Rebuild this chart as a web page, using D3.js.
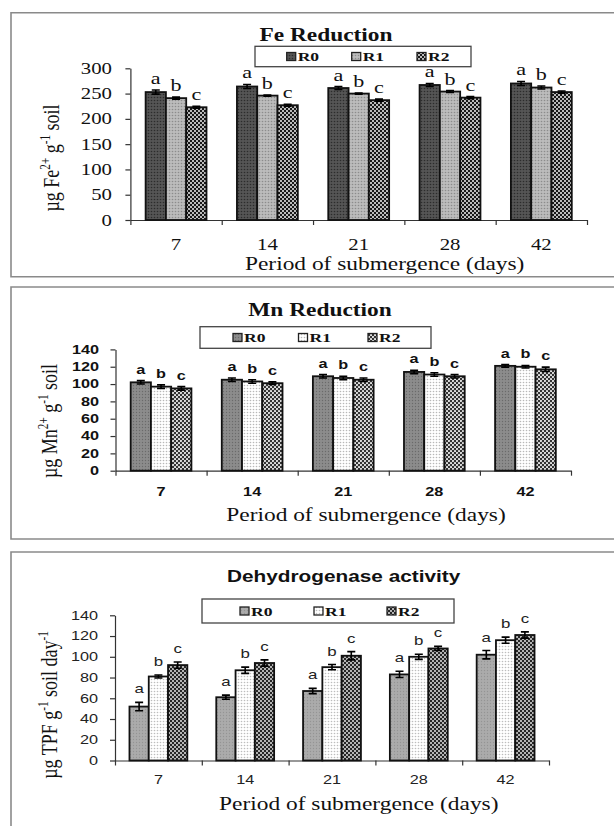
<!DOCTYPE html>
<html><head><meta charset="utf-8">
<script src="https://cdn.jsdelivr.net/npm/d3@7"></script>
<style>html,body{margin:0;padding:0;background:#fff;} svg{display:block;}</style>
</head><body>
<svg id="fig" width="614" height="826"></svg>
<script>
// Submergence periods and treatments
const days = ["7", "14", "21", "28", "42"];
const treatments = ["R0", "R1", "R2"];
const letters = ["a", "b", "c"];

// Fe reduction (µg Fe2+ g-1 soil)
const feR0 = [253, 264, 261, 267, 270];
const feR1 = [241, 246, 250, 254, 262];
const feR2 = [223, 227, 237, 242, 253];
const feErrR0 = [4, 4, 3, 3, 4];
const feErrR1 = [2, 1, 1, 2, 3];
const feErrR2 = [2, 2, 2, 2, 2];
const feTicks = [0, 50, 100, 150, 200, 250, 300];

// Mn reduction (µg Mn2+ g-1 soil)
const mnR0 = [102, 105, 109, 114, 121];
const mnR1 = [97, 103, 107, 111, 120];
const mnR2 = [95, 101, 105, 109, 117];
const mnErrR0 = [2, 2, 2, 2, 1.5];
const mnErrR1 = [2, 2, 2, 2, 1.5];
const mnErrR2 = [2, 1.5, 2, 2, 2.5];
const mnTicks = [0, 20, 40, 60, 80, 100, 120, 140];

// Dehydrogenase activity (µg TPF g-1 soil day-1)
const dhR0 = [52, 61, 67, 83, 102];
const dhR1 = [81, 87, 90, 100, 116];
const dhR2 = [92, 94, 101, 108, 121];
const dhErrR0 = [4, 2, 2.5, 3, 4];
const dhErrR1 = [1.5, 3, 2.5, 2.5, 3];
const dhErrR2 = [3, 3, 4, 2, 3];
const dhTicks = [0, 20, 40, 60, 80, 100, 120, 140];

const SX = 1.3; // horizontal stretch applied to all lettering
const SERIF = "'Liberation Serif','Times New Roman',serif";
const SANS = "'Liberation Sans',Arial,sans-serif";

const svg = d3.select("#fig");
svg.append("rect").attr("width", 614).attr("height", 826).attr("fill", "#fff");
const defs = svg.append("defs");

// fill textures
function dotPattern(id, size, bg, dot, r) {
  const p = defs.append("pattern").attr("id", id).attr("patternUnits", "userSpaceOnUse")
    .attr("width", size).attr("height", size);
  p.append("rect").attr("width", size).attr("height", size).attr("fill", bg);
  p.append("circle").attr("cx", size / 2).attr("cy", size / 2).attr("r", r).attr("fill", dot);
}
function checkPattern(id, dark, light, r) {
  const p = defs.append("pattern").attr("id", id).attr("patternUnits", "userSpaceOnUse")
    .attr("width", 4).attr("height", 4);
  p.append("rect").attr("width", 4).attr("height", 4).attr("fill", dark);
  p.append("circle").attr("cx", 1).attr("cy", 1).attr("r", r).attr("fill", light);
  p.append("circle").attr("cx", 3).attr("cy", 3).attr("r", r).attr("fill", light);
}
dotPattern("fe0", 3, "#555555", "#2c2c2c", 0.8);
dotPattern("fe1", 3, "#bcbcbc", "#8c8c8c", 0.8);
checkPattern("fe2", "#181818", "#f2f2f2", 1.0);
dotPattern("mn0", 3, "#8c8c8c", "#6a6a6a", 0.7);
dotPattern("mn1", 3, "#ffffff", "#b8b8b8", 0.8);
checkPattern("mn2", "#333333", "#ececec", 1.05);
dotPattern("dh0", 3, "#ababab", "#949494", 0.7);
dotPattern("dh1", 3, "#ffffff", "#bdbdbd", 0.8);
checkPattern("dh2", "#262626", "#e4e4e4", 1.0);

function label(g, x, y, str, f) {
  return g.append("text")
    .attr("transform", `translate(${x},${y}) scale(${SX},1)`)
    .attr("text-anchor", f.anchor || "middle")
    .attr("dy", f.dy || "0.35em")
    .style("font-family", f.family)
    .style("font-size", f.size + "px")
    .style("font-weight", f.weight || "normal")
    .attr("fill", f.color || "#111")
    .text(str);
}

function rotatedTitle(g, x, y, parts, size) {
  const t = g.append("text")
    .attr("transform", `translate(${x},${y}) scale(${SX},1) rotate(-90)`)
    .attr("text-anchor", "middle").attr("dy", "0.35em")
    .style("font-family", SERIF).style("font-size", size + "px").attr("fill", "#111");
  let shift = 0;
  parts.forEach(([s, sup]) => {
    const ts = t.append("tspan").text(s);
    if (sup) {
      ts.style("font-size", (size * 0.62) + "px").attr("dy", -size * 0.4);
      shift = size * 0.4;
    } else if (shift) {
      ts.attr("dy", shift);
      shift = 0;
    }
  });
}

function drawPanel(p) {
  const g = svg.append("g");
  // frame (open on the right)
  g.append("path")
    .attr("d", `M620,${p.frame[0]} H${p.frameX} V${p.frame[1]} H620`)
    .attr("fill", "none").attr("stroke", "#8a8a8a").attr("stroke-width", 1.6);

  const x = d3.scaleBand().domain(days).range([p.x0, p.x1]).padding(0);
  const xs = d3.scaleBand().domain(treatments).range([0, x.bandwidth()])
    .paddingInner(0).paddingOuter(0.75);
  const y = d3.scaleLinear().domain([0, p.max]).range([p.y0, p.yTop]);

  // axes
  const yAxis = d3.axisLeft(y).tickValues(p.ticks).tickSize(5).tickSizeOuter(0).tickFormat("");
  g.append("g").attr("transform", `translate(${p.x0},0)`).call(yAxis)
    .call(a => a.selectAll("path,line").attr("stroke", "#333").attr("stroke-width", 1.2));
  const xb = d3.scaleLinear().domain([0, days.length]).range([p.x0, p.x1]);
  const xAxis = d3.axisBottom(xb).tickValues(d3.range(days.length + 1)).tickSize(5)
    .tickSizeOuter(0).tickFormat("");
  g.append("g").attr("transform", `translate(0,${p.y0})`).call(xAxis)
    .call(a => a.selectAll("path,line").attr("stroke", "#333").attr("stroke-width", 1.2));

  p.ticks.forEach(t => label(g, p.tickRight, y(t), String(t),
    { ...p.tickFont, anchor: "end" }));
  days.forEach(d => label(g, x(d) + x.bandwidth() / 2, p.xLabelY, d, p.tickFont));

  // bars, error bars and significance letters
  p.series.forEach((vals, si) => {
    const s = treatments[si];
    vals.forEach((v, i) => {
      const d = days[i];
      const bx = x(d) + xs(s);
      const bw = xs.bandwidth();
      g.append("rect").attr("x", bx).attr("y", y(v)).attr("width", bw)
        .attr("height", p.y0 - y(v)).attr("fill", `url(#${p.fills[si]})`)
        .attr("stroke", "#111").attr("stroke-width", 1.8);
      const e = p.errs[si][i];
      const cx = bx + bw / 2;
      g.append("path")
        .attr("d", `M${cx - 4},${y(v + e)} H${cx + 4} M${cx},${y(v + e)} V${y(v - e)} M${cx - 4},${y(v - e)} H${cx + 4}`)
        .attr("stroke", "#000").attr("stroke-width", 1.6).attr("fill", "none");
      label(g, cx, y(v + e) - p.letterGap, letters[si], { ...p.letterFont, dy: "0" });
    });
  });

  // legend
  const [lx0, ly0, lx1, ly1] = p.legendBox;
  g.append("rect").attr("x", lx0).attr("y", ly0).attr("width", lx1 - lx0).attr("height", ly1 - ly0)
    .attr("fill", "#fff").attr("stroke", "#444").attr("stroke-width", 1.3);
  const ly = (ly0 + ly1) / 2;
  treatments.forEach((s, si) => {
    const sx = p.legendX[si];
    g.append("rect").attr("x", sx).attr("y", ly - 4).attr("width", 9).attr("height", 8)
      .attr("fill", `url(#${p.fills[si]})`).attr("stroke", "#222").attr("stroke-width", 1.3);
    label(g, sx + 11, ly, s, { family: SERIF, size: 13.5, weight: "bold", anchor: "start" });
  });

  // titles
  label(g, p.title[0], p.title[1], p.title[2], p.titleFont);
  label(g, p.xTitle[0], p.xTitle[1], "Period of submergence (days)", { family: SERIF, size: 18 });
  rotatedTitle(g, p.yTitle[0], p.yTitle[1], p.yParts, 18);
}

drawPanel({
  frame: [12.7, 276.7], frameX: 11,
  x0: 130.4, x1: 587, y0: 220, yTop: 68.3, max: 300, ticks: feTicks,
  tickRight: 112, xLabelY: 244.5,
  tickFont: { family: SERIF, size: 16 },
  letterFont: { family: SERIF, size: 17 }, letterGap: 6,
  series: [feR0, feR1, feR2], errs: [feErrR0, feErrR1, feErrR2],
  fills: ["fe0", "fe1", "fe2"],
  legendBox: [255, 46.3, 471, 66.7], legendX: [286.7, 351.7, 417],
  title: [326, 35, "Fe Reduction"], titleFont: { family: SERIF, size: 18, weight: "bold" },
  xTitle: [384.7, 263.5], yTitle: [51, 158],
  yParts: [["µg Fe", 0], ["2+", 1], [" g", 0], ["-1", 1], [" soil", 0]]
});

drawPanel({
  frame: [287, 539], frameX: 11,
  x0: 115.5, x1: 571, y0: 470.7, yTop: 349.4, max: 140, ticks: mnTicks,
  tickRight: 99, xLabelY: 491.7,
  tickFont: { family: SANS, size: 12.5, weight: "bold" },
  letterFont: { family: SANS, size: 12.5, weight: "bold" }, letterGap: 7,
  series: [mnR0, mnR1, mnR2], errs: [mnErrR0, mnErrR1, mnErrR2],
  fills: ["mn0", "mn1", "mn2"],
  legendBox: [200, 326.7, 431, 348.3], legendX: [233, 298.5, 368],
  title: [320, 310, "Mn Reduction"], titleFont: { family: SERIF, size: 18, weight: "bold" },
  xTitle: [366, 515], yTitle: [49, 421],
  yParts: [["µg Mn", 0], ["2+", 1], [" g", 0], ["-1", 1], [" soil", 0]]
});

drawPanel({
  frame: [552, 840], frameX: 11,
  x0: 115, x1: 549, y0: 760.5, yTop: 615.3, max: 140, ticks: dhTicks,
  tickRight: 98, xLabelY: 780,
  tickFont: { family: SANS, size: 12.5, color: "#222" },
  letterFont: { family: SANS, size: 13, color: "#222" }, letterGap: 9,
  series: [dhR0, dhR1, dhR2], errs: [dhErrR0, dhErrR1, dhErrR2],
  fills: ["dh0", "dh1", "dh2"],
  legendBox: [202, 599, 454, 623], legendX: [240, 314, 387],
  title: [343.6, 576.7, "Dehydrogenase activity"], titleFont: { family: SANS, size: 16, weight: "bold" },
  xTitle: [358.8, 803.3], yTitle: [49, 705],
  yParts: [["µg TPF g", 0], ["-1", 1], [" soil day", 0], ["-1", 1]]
});
</script>
</body></html>
